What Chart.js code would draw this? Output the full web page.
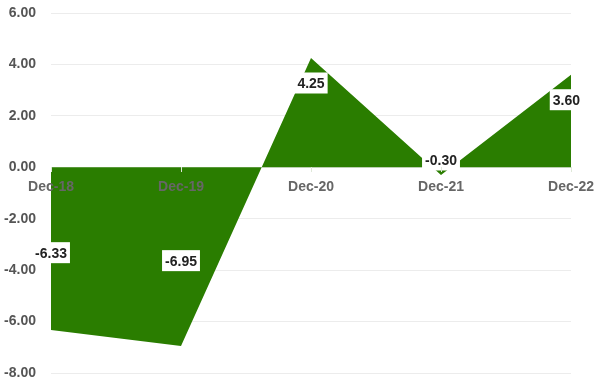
<!DOCTYPE html>
<html>
<head>
<meta charset="utf-8">
<script src="https://cdn.jsdelivr.net/npm/chart.js@4"></script>
<style>
  html, body { margin: 0; padding: 0; background: #fff; }
  #wrap { width: 600px; height: 387px; }
</style>
</head>
<body>
<div id="wrap"><canvas id="chart"></canvas></div>
<script>
  const categories = ['Dec-18', 'Dec-19', 'Dec-20', 'Dec-21', 'Dec-22'];
  const values = [-6.33, -6.95, 4.25, -0.30, 3.60];
  const yTicks = [6, 4, 2, 0, -2, -4, -6, -8];

  const FONT = 'Arial, "Liberation Sans", sans-serif';

  // etiquetas blancas con el valor
  const valueLabels = {
    id: 'valueLabels',
    afterDatasetsDraw(chart) {
      const ctx = chart.ctx;
      const meta = chart.getDatasetMeta(0);
      const zero = chart.scales.y.getPixelForValue(0);
      ctx.save();
      ctx.font = 'bold 14px ' + FONT;
      ctx.textAlign = 'center';
      ctx.textBaseline = 'middle';
      meta.data.forEach((pt, i) => {
        const v = values[i];
        const txt = v.toFixed(2);
        const w = ctx.measureText(txt).width + 6;
        const h = 21;
        let y;
        if (v >= 0) y = pt.y + 25;
        else y = Math.min((zero + pt.y) / 2 + 4, pt.y - 15);
        let x = pt.x;
        if (x + w / 2 > 583) x = 583 - w / 2;
        ctx.fillStyle = '#fff';
        ctx.fillRect(x - w / 2, y - h / 2, w, h);
        ctx.fillStyle = '#222';
        ctx.fillText(txt, x, y + 1);
      });
      ctx.restore();
    }
  };

  new Chart(document.getElementById('chart').getContext('2d'), {
    type: 'line',
    data: {
      labels: categories,
      datasets: [{
        data: values,
        fill: 'origin',
        backgroundColor: '#2a7d00',
        borderColor: '#2a7d00',
        borderWidth: 0,
        pointRadius: 0,
        tension: 0
      }]
    },
    options: {
      responsive: true,
      maintainAspectRatio: false,
      animation: false,
      layout: { padding: { top: 13, right: 29, bottom: 14, left: 0 } },
      plugins: { legend: { display: false }, tooltip: { enabled: false } },
      scales: {
        x: {
          position: { y: 0 },
          offset: false,
          grid: { display: true, drawOnChartArea: false, drawTicks: true, tickLength: 5, color: '#dfe8d8', z: 1 },
          border: { display: false, z: 1 },
          ticks: {
            z: 1,
            color: '#666',
            font: { family: FONT, size: 14, weight: 'bold' },
            padding: 6,
            maxRotation: 0,
            autoSkip: false
          }
        },
        y: {
          min: -8,
          max: 6,
          afterBuildTicks(axis) { axis.ticks = yTicks.map(v => ({ value: v })); },
          afterFit(axis) { axis.width = 51; axis.paddingTop = 0; axis.paddingBottom = 0; },
          grid: { color: '#ececec', drawTicks: false },
          border: { display: false },
          ticks: {
            color: '#555',
            font: { family: FONT, size: 14, weight: 'bold' },
            padding: 15,
            callback: v => v.toFixed(2)
          }
        }
      }
    },
    plugins: [valueLabels]
  });
</script>
</body>
</html>
